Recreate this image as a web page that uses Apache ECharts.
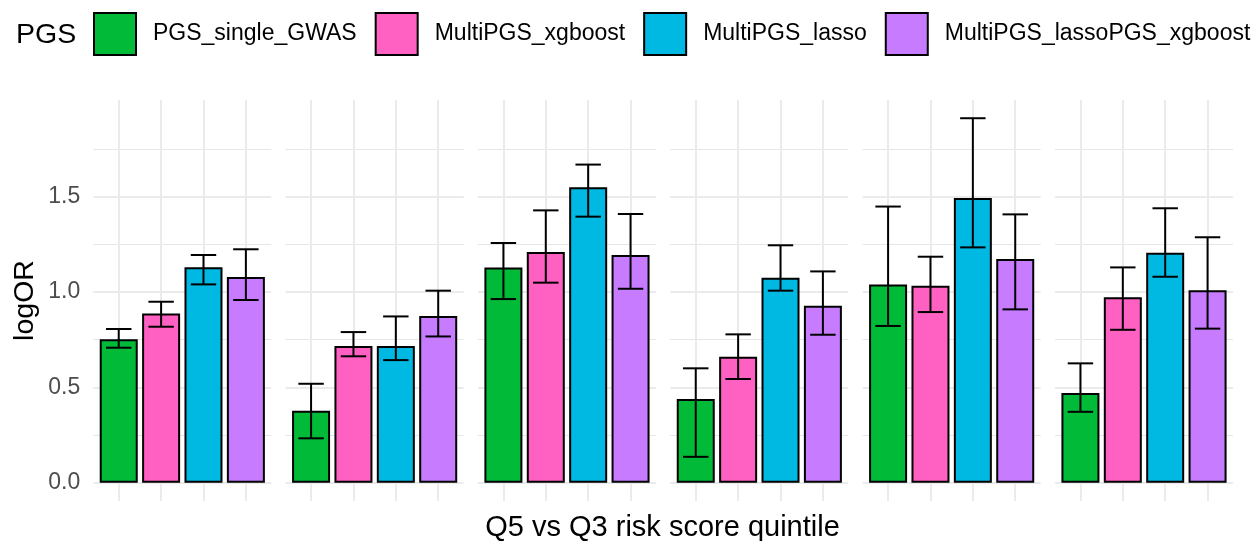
<!DOCTYPE html>
<html>
<head>
<meta charset="utf-8">
<script src="https://cdn.jsdelivr.net/npm/echarts@6/dist/echarts.min.js"></script>
<style>
html,body{margin:0;padding:0;background:#fff;}
#c{width:1252px;height:541px;}
</style>
</head>
<body>
<div id="c"></div>
<script>
// ---- data ----
const methods = ['PGS_single_GWAS', 'MultiPGS_xgboost', 'MultiPGS_lasso', 'MultiPGS_lassoPGS_xgboost'];
const singleGwasOR   = [0.752, 0.378, 1.129, 0.439, 1.040, 0.470];
const singleGwasLow  = [0.708, 0.233, 0.963, 0.136, 0.822, 0.372];
const singleGwasHigh = [0.806, 0.519, 1.257, 0.600, 1.448, 0.626];
const xgboostOR      = [0.888, 0.717, 1.210, 0.661, 1.033, 0.972];
const xgboostLow     = [0.818, 0.663, 1.049, 0.544, 0.895, 0.802];
const xgboostHigh    = [0.949, 0.790, 1.428, 0.778, 1.185, 1.129];
const lassoOR        = [1.130, 0.717, 1.549, 1.075, 1.493, 1.206];
const lassoLow       = [1.040, 0.643, 1.395, 1.007, 1.234, 1.080];
const lassoHigh      = [1.194, 0.872, 1.668, 1.245, 1.911, 1.439];
const lassoXgbOR     = [1.079, 0.874, 1.194, 0.928, 1.173, 1.009];
const lassoXgbLow    = [0.958, 0.767, 1.017, 0.776, 0.909, 0.808];
const lassoXgbHigh   = [1.224, 1.007, 1.409, 1.108, 1.407, 1.287];
const yTickLabels = [0, 0.5, 1.0, 1.5];
const yMinorBreaks = [0.25, 0.75, 1.25, 1.75];

// ---- style ----
const colors = ['#00BA38', '#FF61C3', '#00B9E3', '#C77CFF'];
const FONT = '"Liberation Sans", Arial, Helvetica, sans-serif';
const nPanels = singleGwasOR.length;
const orArr = [singleGwasOR, xgboostOR, lassoOR, lassoXgbOR];
const lowArr = [singleGwasLow, xgboostLow, lassoLow, lassoXgbLow];
const highArr = [singleGwasHigh, xgboostHigh, lassoHigh, lassoXgbHigh];

// ggplot-like 5% expansion of the data range
let dataMax = 0;
highArr.forEach(a => a.forEach(v => { if (v > dataMax) dataMax = v; }));
const yMin = -0.05 * dataMax, yMax = dataMax * 1.05;

const grids = [], xAxes = [], yAxes = [], series = [];
for (let p = 0; p < nPanels; p++) {
  grids.push({ left: 93.3 + p * 192.34, top: 100, width: 178, height: 401, containLabel: false });
  xAxes.push({ type: 'value', gridIndex: p, min: 0.4, max: 4.6, show: false });
  yAxes.push({
    type: 'value', gridIndex: p, min: yMin, max: yMax, splitNumber: 4,
    show: p === 0,
    axisLine: { show: false }, axisTick: { show: false }, splitLine: { show: false },
    axisLabel: {
      show: p === 0, color: '#4D4D4D', fontSize: 23, fontFamily: FONT, margin: 13,
      showMinLabel: false, showMaxLabel: false,
      formatter: v => yTickLabels.some(t => Math.abs(t - v) < 1e-6) ? v.toFixed(1) : ''
    }
  });
  const ml = [];
  yMinorBreaks.forEach(v => ml.push({ yAxis: v, lineStyle: { color: '#E6E6E6', width: 1, type: 'solid' } }));
  yTickLabels.forEach(v => ml.push({ yAxis: v, lineStyle: { color: '#EBEBEB', width: 2, type: 'solid' } }));
  methods.forEach((m, i) => ml.push({ xAxis: i + 1, lineStyle: { color: '#EBEBEB', width: 2, type: 'solid' } }));
  series.push({
    type: 'line', xAxisIndex: p, yAxisIndex: p, data: [], silent: true, z: 0,
    markLine: { z: 0, symbol: ['none', 'none'], silent: true, animation: false, label: { show: false }, data: ml }
  });
  methods.forEach((m, i) => {
    series.push({
      type: 'bar', name: m, xAxisIndex: p, yAxisIndex: p,
      data: [[i + 1, orArr[i][p]]],
      barWidth: 38, barGap: '-100%', z: 2, animation: false,
      itemStyle: { color: colors[i], borderColor: '#000', borderWidth: 2 }
    });
  });
  series.push({
    type: 'custom', xAxisIndex: p, yAxisIndex: p, z: 3, silent: true, animation: false,
    encode: { x: 0, y: [1, 2] },
    data: methods.map((m, i) => [i + 1, lowArr[i][p], highArr[i][p]]),
    renderItem: function (params, api) {
      const x = api.value(0), lo = api.value(1), hi = api.value(2);
      const a = api.coord([x, hi]), b = api.coord([x, lo]);
      const tl = api.coord([x - 0.3, hi]), tr = api.coord([x + 0.3, hi]);
      const bl = api.coord([x - 0.3, lo]), br = api.coord([x + 0.3, lo]);
      const st = { stroke: '#000', lineWidth: 2, fill: null };
      return {
        type: 'group', children: [
          { type: 'line', shape: { x1: a[0], y1: a[1], x2: b[0], y2: b[1] }, style: st },
          { type: 'line', shape: { x1: tl[0], y1: tl[1], x2: tr[0], y2: tr[1] }, style: st },
          { type: 'line', shape: { x1: bl[0], y1: bl[1], x2: br[0], y2: br[1] }, style: st }
        ]
      };
    }
  });
}

const chart = echarts.init(document.getElementById('c'));
chart.setOption({
  backgroundColor: '#fff',
  animation: false,
  grid: grids, xAxis: xAxes, yAxis: yAxes, series: series,
  legend: {
    data: methods, left: 93, top: 12, padding: 0, width: 1400,
    itemWidth: 42, itemHeight: 42, itemGap: 18, icon: 'rect',
    itemStyle: { borderColor: '#000', borderWidth: 2 },
    selectedMode: false,
    textStyle: { fontSize: 23, color: '#000', fontFamily: FONT, padding: [0, 0, 0, 12] }
  },
  graphic: [
    { type: 'text', x: 16, y: 35, style: { text: 'PGS', fontSize: 28.5, fontFamily: FONT, fill: '#000', align: 'left', verticalAlign: 'middle' } },
    { type: 'text', x: 25, y: 300.5, rotation: Math.PI / 2, style: { text: 'logOR', fontSize: 28.5, fontFamily: FONT, fill: '#000', align: 'center', verticalAlign: 'middle' } },
    { type: 'text', x: 662.5, y: 528, style: { text: 'Q5 vs Q3 risk score quintile', fontSize: 29, fontFamily: FONT, fill: '#000', align: 'center', verticalAlign: 'middle' } }
  ]
});
</script>
</body>
</html>
